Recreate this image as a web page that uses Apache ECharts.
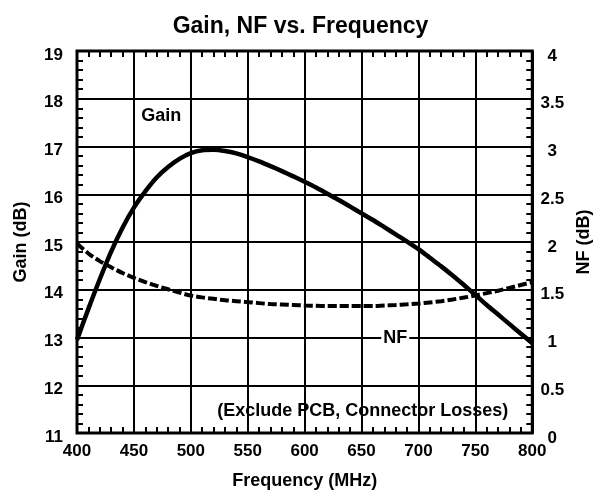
<!DOCTYPE html>
<html><head><meta charset="utf-8">
<script src="https://cdn.jsdelivr.net/npm/echarts@6/dist/echarts.min.js"></script>
<style>html,body{margin:0;padding:0;background:#fff}#c{width:601px;height:504px}</style>
</head><body><div id="c"></div>
<script>
const freq = [400,410,420,430,440,450,460,470,480,490,500,510,520,530,540,550,560,570,580,590,600,
              610,620,630,640,650,660,670,680,690,700,710,720,730,740,750,760,770,780,790,800];
const gain = [12.95,13.6,14.22,14.8,15.3,15.72,16.06,16.35,16.57,16.74,16.86,16.92,16.93,16.905,16.855,16.78,16.69,16.59,16.485,16.375,16.26,
              16.14,16.01,15.88,15.74,15.6,15.46,15.31,15.16,15.01,14.85,14.67,14.49,14.3,14.1,13.89,13.68,13.48,13.28,13.08,12.88];
const nf = [1.985,1.88,1.80,1.735,1.675,1.625,1.58,1.54,1.505,1.47,1.44,1.42,1.405,1.39,1.38,1.37,1.36,1.35,1.345,1.34,1.335,
            1.332,1.33,1.33,1.33,1.33,1.33,1.335,1.34,1.347,1.355,1.367,1.38,1.398,1.418,1.44,1.465,1.49,1.52,1.55,1.58];
const xTicks = [400,800,50];
const gainTicks = [11,19,1];
const nfTicks = [0,4,0.5];
const titleText = 'Gain, NF vs. Frequency';
const xName = 'Frequency (MHz)';
const gainName = 'Gain (dB)';
const nfName = 'NF (dB)';
const notes = [
  {text:'Gain', at:[474,17.64], axis:0},
  {text:'NF', at:[679.6,0.99], axis:1},
  {text:'(Exclude PCB, Connector Losses)', at:[651,11.46], axis:0}
];

const F = 'Liberation Sans, Arial, sans-serif';
const tickLbl = {fontFamily:F, fontWeight:'bold', fontSize:17, color:'#000'};
const nameLbl = {fontFamily:F, fontWeight:'bold', fontSize:18, color:'#000'};
const chart = echarts.init(document.getElementById('c'), null, {renderer:'canvas'});
const mk = (n) => ({
  coord: n.at, symbol:'rect', symbolSize:0,
  label:{show:true, position:'inside', formatter:n.text, fontFamily:F, fontWeight:'bold',
    fontSize:18, color:'#000',
    backgroundColor: n.text==='NF' ? '#fff' : 'transparent', padding: n.text==='NF'?[0,2]:0}
});
const minor = {show:true, splitNumber:5, length:6, lineStyle:{color:'#000', width:2}};
chart.setOption({
  animation:false,
  backgroundColor:'#fff',
  title:{text:titleText, left:'center', top:10, textStyle:{fontFamily:F, fontWeight:'bold', fontSize:23, color:'#000'}},
  grid:{left:77, right:67, top:51, bottom:71, show:true, borderColor:'#000', borderWidth:3, backgroundColor:'transparent'},
  xAxis:[{
    type:'value', min:xTicks[0], max:xTicks[1], interval:xTicks[2], position:'bottom',
    name:xName, nameLocation:'middle', nameGap:39, nameTextStyle:nameLbl,
    axisLine:{show:false}, axisTick:{show:false, inside:true},
    minorTick:minor,
    axisLabel:Object.assign({margin:10}, tickLbl),
    splitLine:{show:true, lineStyle:{color:'#000', width:2}}
  },{
    type:'value', min:xTicks[0], max:xTicks[1], interval:xTicks[2], position:'top',
    axisLine:{show:false}, axisTick:{show:false, inside:true}, axisLabel:{show:false},
    minorTick:minor,
    splitLine:{show:false}
  }],
  yAxis:[{
    type:'value', min:gainTicks[0], max:gainTicks[1], interval:gainTicks[2], position:'left',
    name:gainName, nameLocation:'middle', nameGap:47, nameRotate:90, nameTextStyle:nameLbl,
    axisLine:{show:false}, axisTick:{show:false, inside:true},
    minorTick:minor,
    axisLabel:{margin:14, formatter:v=>'{a|'+v+'}', rich:{a:Object.assign({padding:[8,0,0,0]}, tickLbl)}},
    splitLine:{show:true, lineStyle:{color:'#000', width:2}}
  },{
    type:'value', min:nfTicks[0], max:nfTicks[1], interval:nfTicks[2], position:'right',
    name:nfName, nameLocation:'middle', nameGap:35, nameRotate:90, nameTextStyle:nameLbl,
    axisLine:{show:false}, axisTick:{show:false, inside:true},
    minorTick:minor,
    axisLabel:{margin:20, align:'center', formatter:v=>'{a|'+v+'}', rich:{a:Object.assign({padding:[10,0,0,0], align:'center'}, tickLbl)}},
    splitLine:{show:false}
  }],
  series:[{
    type:'line', name:'Gain', xAxisIndex:0, yAxisIndex:0, smooth:0.3, symbol:'none',
    data: freq.map((f,i)=>[f,gain[i]]),
    lineStyle:{color:'#000', width:4.5},
    markPoint:{silent:true, data: notes.filter(n=>n.axis===0).map(mk)}
  },{
    type:'line', name:'NF', xAxisIndex:0, yAxisIndex:1, smooth:0.3, symbol:'none',
    data: freq.map((f,i)=>[f,nf[i]]),
    lineStyle:{color:'#000', width:4, type:[9,3]},
    markPoint:{silent:true, data: notes.filter(n=>n.axis===1).map(mk)}
  }]
});
</script></body></html>
